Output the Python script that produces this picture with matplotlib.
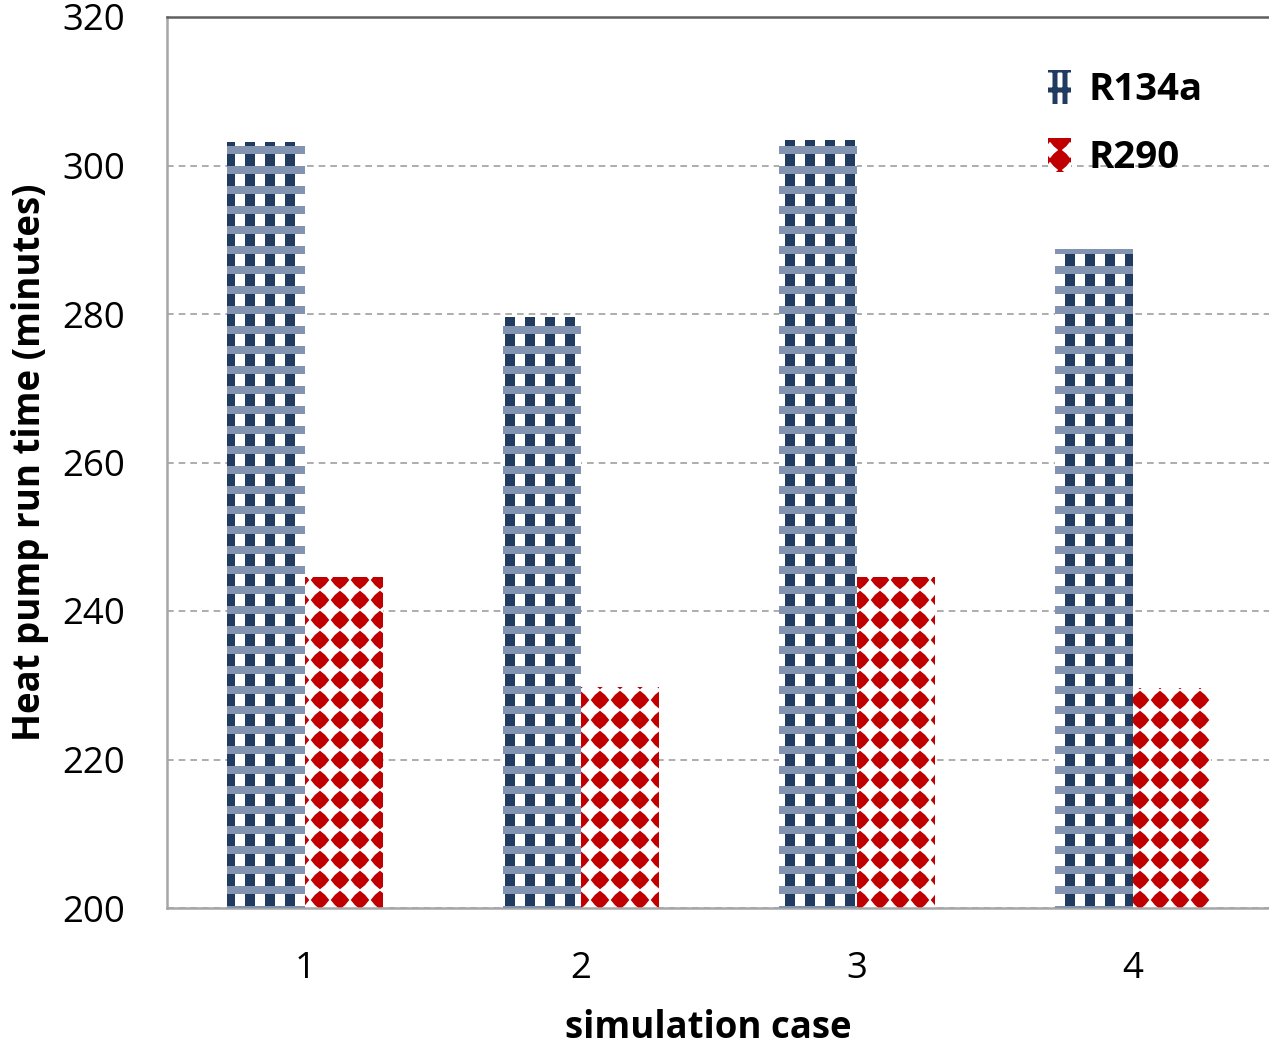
import numpy as np
import matplotlib
matplotlib.use("Agg")
import matplotlib.pyplot as plt
import matplotlib.hatch as mhatch
from matplotlib.patches import Patch
from matplotlib.path import Path

cases = ["1", "2", "3", "4"]
r134a = [303.2, 279.6, 303.4, 288.7]
r290 = [244.6, 229.8, 244.6, 229.6]
yticks = [200, 220, 240, 260, 280, 300, 320]


# square grid of filled diamonds for the '.' hatch
class DiamondGrid(mhatch.HatchPatternBase):
    size = 0.41
    shape_vertices = np.array([[0, -1], [0.55, -0.55], [1, 0], [0.55, 0.55], [0, 1],
                               [-0.55, 0.55], [-1, 0], [-0.55, -0.55], [0, -1]], float)
    shape_codes = np.array([Path.MOVETO] + [Path.LINETO] * 7 + [Path.CLOSEPOLY],
                           dtype=Path.code_type)

    def __init__(self, hatch, density):
        self.num_rows = hatch.count('.') * density
        if self.num_rows == 0:
            self.num_shapes = 0
            self.num_vertices = 0
        else:
            self.num_shapes = (self.num_rows + 1) ** 2
            self.num_vertices = self.num_shapes * len(self.shape_vertices)

    def set_vertices_and_codes(self, vertices, codes):
        offset = 1.0 / self.num_rows
        sv = self.shape_vertices * offset * self.size
        vparts, cparts = [], []
        grid = np.linspace(0, 1, self.num_rows + 1)
        for r in grid:
            for c in grid:
                vparts.append(sv + [c, r])
                cparts.append(self.shape_codes)
        np.concatenate(vparts, out=vertices)
        np.concatenate(cparts, out=codes)


mhatch._hatch_types = [DiamondGrid if t is mhatch.SmallFilledCircles else t
                       for t in mhatch._hatch_types]

DPI = 120
W, H = 1269, 1052
plt.rcParams['font.family'] = ['Open Sans', 'DejaVu Sans']
fig = plt.figure(figsize=(W / DPI, H / DPI), dpi=DPI)
AXL, AXR, AXT, AXB = 167, 1271, 17, 908
ax = fig.add_axes([AXL / W, 1 - AXB / H, (AXR - AXL) / W, (AXB - AXT) / H])

x = np.arange(1, len(cases) + 1)
bw = 0.283
navy = '#203a60'
band = '#8294b0'
red = '#c00000'


def hatch_lw(bars, lw):
    for b in bars:
        if hasattr(b, 'set_hatch_linewidth'):
            b.set_hatch_linewidth(lw)


plt.rcParams['hatch.linewidth'] = 6.0
b1 = ax.bar(x - bw / 2, np.array(r134a) - 200, bw, bottom=200, color='white',
            edgecolor=navy, hatch='|', linewidth=0, zorder=2)
hatch_lw(b1, 6.0)
plt.rcParams['hatch.linewidth'] = 4.8
b2 = ax.bar(x - bw / 2, np.array(r134a) - 200, bw, bottom=200, color='none',
            edgecolor=band, hatch='-', linewidth=0, zorder=3)
hatch_lw(b2, 4.8)
plt.rcParams['hatch.linewidth'] = 1.0
b3 = ax.bar(x + bw / 2, np.array(r290) - 200, bw, bottom=200, color='white',
            edgecolor=red, hatch='.', linewidth=0, zorder=2)
hatch_lw(b3, 1.0)

ax.set_xlim(0.5, 4.5)
ax.set_ylim(200, 320)
ax.set_yticks(yticks)
ax.set_xticks(x)
ax.set_xticklabels(cases)
ax.tick_params(axis='both', length=0, labelsize=22)
ax.tick_params(axis='x', pad=26)
ax.tick_params(axis='y', pad=25)

ax.grid(axis='y', color='#a0a0a0', linestyle=(0, (4, 3)), linewidth=1.0, zorder=0)
ax.set_axisbelow(True)
for s in ['left', 'bottom']:
    ax.spines[s].set_color('#a6a6a6')
    ax.spines[s].set_linewidth(1.5)
ax.spines['top'].set_color('#606060')
ax.spines['top'].set_linewidth(1.5)
ax.spines['right'].set_visible(False)

ax.set_xlabel('simulation case', fontsize=22, fontweight='bold')
ax.xaxis.set_label_coords((708 - AXL) / (AXR - AXL), -(1028 - AXB) / (AXB - AXT))
ax.xaxis.label.set_va('center')
ax.set_ylabel('Heat pump run time (minutes)', fontsize=22, fontweight='bold')
ax.yaxis.set_label_coords(-(AXL - 30) / (AXR - AXL), 0.5)
ax.yaxis.label.set_va('center')

plt.rcParams['hatch.linewidth'] = 3.0
h1 = Patch(facecolor='white', edgecolor=navy, hatch='|+', linewidth=0)
h2 = Patch(facecolor='white', edgecolor=red, hatch='.', linewidth=0)
leg = ax.legend([h1, h2], ['R134a', 'R290'], loc='upper left',
                bbox_to_anchor=((1048 - AXL) / (AXR - AXL), (AXB - 70) / (AXB - AXT)),
                frameon=False, prop={'size': 23, 'weight': 'bold'},
                handlelength=0.6, handleheight=1.0, handletextpad=0.45,
                labelspacing=0.75, borderpad=0, borderaxespad=0)

fig.savefig('out.png', dpi=DPI)
